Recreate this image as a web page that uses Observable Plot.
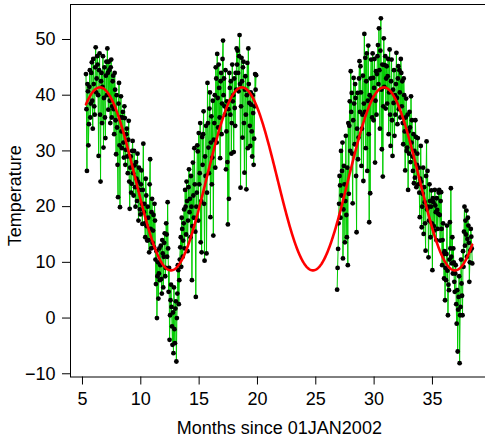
<!DOCTYPE html>
<html><head><meta charset="utf-8">
<script src="https://cdn.jsdelivr.net/npm/d3@7"></script>
<script src="https://cdn.jsdelivr.net/npm/@observablehq/plot@0.6"></script>
<style>html,body{margin:0;padding:0;background:#fff;overflow:hidden;width:485px;height:443px}</style>
</head><body><div id="chart"></div>
<script>
const xLabel = "Months since 01JAN2002";
const yLabel = "Temperature";
const xTicks = [5, 10, 15, 20, 25, 30, 35];
const yTicks = [-10, 0, 10, 20, 30, 40, 50];
const seg1Start = 5.3, seg2Start = 26.83, stepMonths = 1 / 24;
const seg1Temps = [
 43.8,37.5,26.4,42.0,40.7,31.0,34.8,41.5,44.5,36.0,38.5,44.0,45.9,39.0,34.0,46.5,42.0,38.0,36.5,45.0,48.6,40.5,43.0,47.0,
 45.5,40.0,29.1,44.5,47.5,36.5,24.5,42.5,44.0,35.0,41.5,47.0,30.6,39.5,45.0,36.0,32.3,43.5,46.0,40.0,48.4,44.0,37.4,46.0,
 44.5,39.0,35.0,45.0,46.4,36.0,38.0,42.5,43.5,37.5,33.0,44.0,41.0,35.5,29.4,40.0,34.2,27.5,21.7,38.5,42.2,31.0,19.9,36.0,
 39.8,33.5,30.5,36.0,37.0,31.5,28.8,38.0,35.9,27.5,30.2,33.0,34.0,29.0,26.0,32.0,35.4,24.5,19.6,27.0,29.0,22.5,24.1,30.0,
 31.8,26.0,22.0,30.0,27.4,23.5,20.0,28.0,25.0,21.0,29.5,24.5,17.5,27.0,23.0,19.5,18.6,24.0,26.5,20.5,16.9,23.0,31.3,19.0,
 20.5,17.0,14.5,25.0,22.0,16.5,13.9,20.0,18.0,14.0,11.8,24.0,28.5,16.0,12.5,19.0,21.4,13.5,15.7,18.5,12.7,20.5,17.5,10.5,
 6.1,12.0,0.0,7.5,10.0,3.5,8.0,12.5,6.8,9.5,13.0,7.0,4.4,14.0,11.6,5.5,11.0,13.5,15.2,7.5,9.0,17.0,15.0,11.0,
 20.8,12.5,4.7,9.0,-3.9,0.5,3.2,6.0,2.0,-1.5,-4.8,1.0,-6.3,5.5,-2.0,-4.5,1.7,3.0,-7.8,0.0,4.4,9.5,8.6,2.5,
 6.8,10.5,12.7,14.5,9.2,18.0,16.0,11.0,13.9,17.0,19.5,12.5,23.0,20.0,15.0,24.5,21.0,12.0,17.5,23.5,26.7,19.0,21.4,14.5,
 25.5,20.0,6.8,16.5,27.9,22.0,18.0,30.5,24.0,15.5,3.8,20.0,22.5,31.0,29.9,17.5,33.2,24.0,26.0,35.0,13.6,21.0,11.8,32.5,
 27.5,33.0,37.1,20.5,10.3,29.0,25.5,34.5,11.6,22.5,42.2,35.0,30.6,26.0,37.6,40.5,18.1,31.5,36.2,24.0,28.8,39.0,14.8,32.0,
 35.0,40.0,27.0,45.0,43.0,31.5,47.4,39.5,34.2,45.5,41.3,36.0,28.7,42.5,44.0,33.0,38.5,46.5,49.8,40.0,43.0,38.0,36.5,44.5,
 26.7,33.5,38.9,28.0,16.8,37.5,21.4,44.0,41.3,36.5,42.5,29.5,35.0,45.5,38.9,40.0,29.8,43.0,37.7,34.5,44.0,41.0,48.4,45.5,
 48.0,44.0,40.7,47.0,50.8,42.0,23.4,38.0,46.7,42.5,32.4,45.0,46.0,35.0,26.1,41.0,43.4,36.5,23.1,40.0,45.8,30.5,48.4,42.0,
 38.6,34.5,30.9,40.5,38.3,33.5,29.0,40.0,36.8,27.5,32.2,38.0,43.8,41.0,43.6
];
const seg2Temps = [
 5.1,9.0,12.4,17.0,20.5,25.5,23.8,18.0,30.0,22.0,26.4,31.5,10.7,19.5,27.3,24.0,13.6,21.0,32.7,18.5,14.5,27.0,9.5,35.0,
 22.3,34.5,38.9,30.0,44.3,37.0,40.4,29.5,20.6,35.5,43.1,38.5,31.2,42.0,39.5,25.5,15.4,34.0,40.4,28.5,32.4,43.0,46.1,37.0,
 45.2,40.5,27.3,34.0,36.5,43.5,24.6,38.5,51.0,37.0,46.7,30.5,42.5,47.5,26.4,39.0,48.9,33.0,17.2,40.0,22.4,43.0,46.4,39.5,
 36.0,47.5,43.1,35.5,41.3,46.5,27.9,39.0,44.3,36.5,43.8,47.0,49.0,42.0,52.0,44.5,34.0,48.0,53.8,41.0,30.3,45.5,25.4,38.0,
 50.2,41.5,45.4,47.0,37.6,43.0,45.2,38.5,43.4,46.5,33.0,40.5,48.2,36.5,30.9,42.5,46.4,35.5,29.1,41.0,38.6,44.5,32.7,40.0,
 36.5,42.0,47.6,39.5,34.8,43.0,45.2,37.5,44.5,40.5,36.0,46.5,44.0,38.0,42.5,35.0,31.2,43.0,40.0,33.5,26.5,36.0,39.4,30.0,
 30.6,36.5,23.0,33.5,29.5,37.0,34.2,28.0,39.8,31.5,35.5,29.0,26.4,33.0,24.2,30.0,25.2,35.5,32.5,23.5,27.5,29.5,32.3,24.0,
 27.0,22.5,18.1,25.0,30.9,24.5,16.3,20.0,22.3,27.0,15.1,23.5,20.8,17.0,12.1,25.5,31.7,19.5,26.4,20.0,10.9,17.5,24.0,21.0,
 14.5,20.0,22.9,17.0,8.6,21.5,20.8,16.5,15.7,23.0,20.2,19.0,14.0,21.5,19.4,16.0,18.7,22.5,23.0,18.5,13.9,21.0,22.6,16.0,
 9.5,14.0,17.0,11.5,7.1,12.0,3.2,9.0,6.8,11.5,16.6,8.5,0.5,6.0,5.0,10.5,17.2,12.5,23.3,11.0,9.8,14.5,8.0,12.5,
 10.0,6.5,4.7,8.0,9.5,2.5,-1.0,5.0,-6.0,1.5,3.8,7.5,-8.1,0.5,2.0,10.5,6.2,4.0,0.5,12.0,9.2,15.5,20.0,13.0,
 17.5,15.0,19.3,11.0,14.2,18.0,16.6,13.5,6.5,10.0,12.1,16.0,14.6,12.5,9.8
];
// fitted sinusoid (model parameters)
const fitMean = 24.98, fitAmp = 16.42, fitPeriod = 12.17, fitPeak = 6.5;

const obs = [
  ...seg1Temps.map((t, i) => ({month: seg1Start + i * stepMonths, temp: t, seg: "a"})),
  ...seg2Temps.map((t, i) => ({month: seg2Start + i * stepMonths, temp: t, seg: "b"}))
];
const xMin = seg1Start, xMax = seg2Start + (seg2Temps.length - 1) * stepMonths;
const fitRows = d3.range(0, 801).map(k => {
  const m = xMin + (xMax - xMin) * k / 800;
  return {month: m, temp: fitMean + fitAmp * Math.cos(2 * Math.PI * (m - fitPeak) / fitPeriod)};
});

const font = "'Liberation Sans', Arial, Helvetica, sans-serif";
const chart = Plot.plot({
  width: 488, height: 443,
  marginLeft: 70, marginRight: 0.3, marginTop: 4, marginBottom: 66.5,
  style: {fontFamily: font, fontSize: "18px", background: "white", maxWidth: "none", overflow: "visible"},
  x: {domain: [3.974, 39.78]},
  y: {domain: [-10.58, 56.28]},
  marks: [
    Plot.axisX({ticks: xTicks, tickSize: 8, tickPadding: 7, label: null}),
    Plot.axisY({ticks: yTicks, tickSize: 8, tickPadding: 7, label: null}),
    Plot.line(obs, {x: "month", y: "temp", z: "seg", stroke: "#00cd00", strokeWidth: 1}),
    Plot.dot(obs, {x: "month", y: "temp", r: 2.4, fill: "black"}),
    Plot.line(fitRows, {x: "month", y: "temp", stroke: "#ff0000", strokeWidth: 2.6}),
    Plot.frame({stroke: "black", strokeWidth: 1}),
    Plot.text([xLabel], {frameAnchor: "bottom", dy: 51.5, lineAnchor: "middle", text: d => d, fontSize: 18}),
    Plot.text([yLabel], {frameAnchor: "left", dx: -55, dy: 5, rotate: -90, textAnchor: "middle", lineAnchor: "middle", text: d => d, fontSize: 18})
  ]
});
document.getElementById("chart").appendChild(chart);
</script>
</body></html>
